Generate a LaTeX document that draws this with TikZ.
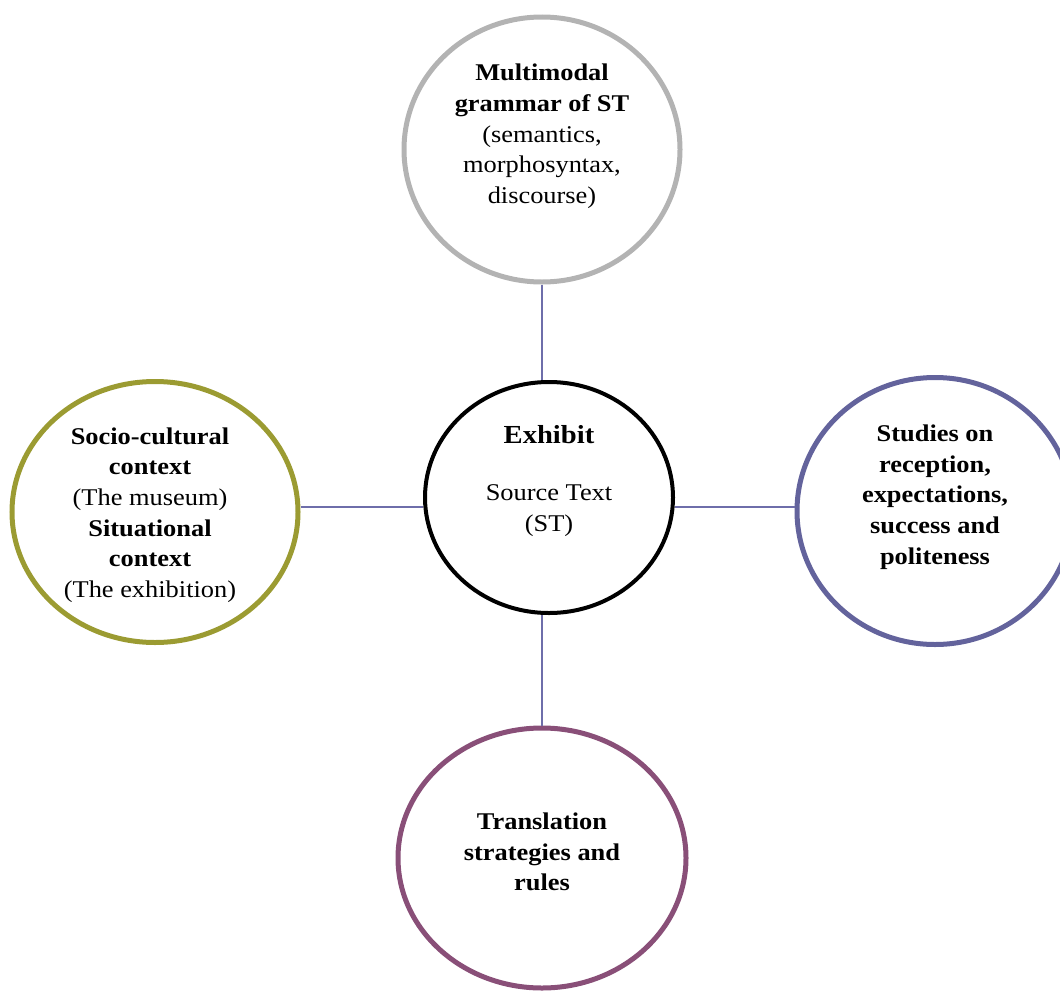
\documentclass[tikz,border=0pt]{standalone}
\usepackage{fontspec}
\setmainfont[FakeStretch=1.1]{Liberation Serif}
\usetikzlibrary{shapes.geometric}
\definecolor{GreyRing}{RGB}{179,179,179}
\definecolor{OliveRing}{RGB}{155,155,50}
\definecolor{SlateRing}{RGB}{99,99,156}
\definecolor{PlumRing}{RGB}{137,79,120}
\definecolor{LinkBlue}{RGB}{110,110,170}
\tikzset{
  ring/.style={draw, ellipse, inner sep=0pt, line width=3.75pt},
  label text/.style={inner sep=0.75pt, align=center, font=\fontsize{18}{23}\selectfont},
  link/.style={draw=LinkBlue, line width=1.1pt}
}
\begin{document}
\begin{tikzpicture}[x=0.75pt,y=0.75pt,yscale=-1,xscale=1]
\useasboundingbox (0,0) rectangle (1060,992);

% Rings
\node [ring, draw=GreyRing, minimum width=207pt, minimum height=198.75pt] (grammar) at (542,149.5) {};
\node [ring, draw=black, line width=3pt, minimum width=186pt, minimum height=173.25pt] (exhibit) at (549,497.5) {};
\node [ring, draw=OliveRing, minimum width=214.5pt, minimum height=195.75pt] (context) at (155,512) {};
\node [ring, draw=SlateRing, minimum width=207pt, minimum height=200.25pt] (reception) at (935,511) {};
\node [ring, draw=PlumRing, minimum width=216pt, minimum height=195pt] (strategies) at (542,858) {};

% Links
\coordinate (midrow) at (0,507);
\draw [link] (grammar.south) -- (exhibit.north -| grammar.south);
\draw [link] (exhibit.south -| strategies.north) -- (strategies.north);
\draw [link] (context.east |- midrow) -- (exhibit.west |- midrow);
\draw [link] (exhibit.east |- midrow) -- (reception.west |- midrow);

% Text Nodes
\node [label text] (grammar text) at (542,136.5) {\textbf{Multimodal}\\\textbf{grammar of ST}\\(semantics,\\morphosyntax,\\discourse)};
\node [label text, font=\fontsize{19.5}{23}\selectfont] (exhibit title) at (549,435) {\textbf{Exhibit}};
\node [label text] (exhibit text) at (549,510.5) {Source Text\\(ST)};
\node [label text] (context text) at (150,515) {\textbf{Socio-cultural}\\\textbf{context}\\(The museum)\\\textbf{Situational}\\\textbf{context}\\(The exhibition)};
\node [label text] (reception text) at (935,497) {\textbf{Studies on}\\\textbf{reception,}\\\textbf{expectations,}\\\textbf{success and}\\\textbf{politeness}};
\node [label text] (strategies text) at (542,852) {\textbf{Translation}\\\textbf{strategies and}\\\textbf{rules}};

\end{tikzpicture}
\end{document}
